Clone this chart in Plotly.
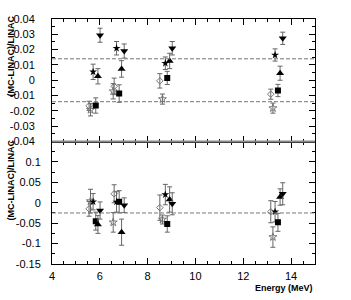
import plotly.graph_objects as go

# ---- data ----
x_open_diamond = [5.55, 6.60, 8.51, 13.15]
top_open_diamond = [-0.0167, -0.0040, -0.0004, -0.0091]
top_err_open_diamond = [0.003, 0.0054, 0.0047, 0.0033]
bot_open_diamond = [-0.015, 0.022, -0.012, -0.022]
bot_err_open_diamond = [0.018, 0.022, 0.031, 0.027]

x_open_star = [5.61, 6.56, 8.62, 13.24]
top_open_star = [-0.0193, -0.0072, -0.0123, -0.0182]
top_err_open_star = [0.004, 0.005, 0.0033, 0.0033]
bot_open_star = [0.004, -0.048, -0.041, -0.084]
bot_err_open_star = [0.029, 0.024, 0.011, 0.025]

x_star = [5.72, 6.70, 8.74, 13.33]
top_star = [0.0055, 0.0209, 0.0111, 0.0165]
top_err_star = [0.005, 0.0044, 0.0041, 0.004]
bot_star = [0.0025, 0.002, 0.020, -0.022]
bot_err_star = [0.02, 0.025, 0.025, 0.025]

x_square = [5.83, 6.81, 8.82, 13.45]
top_square = [-0.0165, -0.0087, 0.0015, -0.0067]
top_err_square = [0.005, 0.0057, 0.0043, 0.004]
bot_square = [-0.045, 0.0025, -0.052, -0.048]
bot_err_square = [0.022, 0.027, 0.02, 0.022]

x_tri_up = [5.92, 6.91, 8.92, 13.54]
top_tri_up = [0.0026, 0.0074, 0.0126, 0.0046]
top_err_tri_up = [0.005, 0.0054, 0.005, 0.0046]
bot_tri_up = [-0.053, -0.072, 0.008, 0.014]
bot_err_tri_up = [0.022, 0.032, 0.031, 0.02]

x_tri_down = [6.01, 7.02, 9.03, 13.65]
top_tri_down = [0.0294, 0.0191, 0.0209, 0.0274]
top_err_tri_down = [0.0046, 0.0046, 0.0044, 0.004]
bot_tri_down = [-0.019, -0.006, -0.0025, 0.022]
bot_err_tri_down = [0.021, 0.018, 0.027, 0.027]

top_band = [0.014, -0.014]
bot_band = [-0.025]

top_tickvals = [-0.04, -0.03, -0.02, -0.01, 0, 0.01, 0.02, 0.03, 0.04]
top_ticktext = ["-0.04", "-0.03", "-0.02", "-0.01", "0", "0.01", "0.02", "0.03", "0.04"]
bot_tickvals = [-0.15, -0.1, -0.05, 0, 0.05, 0.1]
bot_ticktext = ["-0.15", "-0.1", "-0.05", "0", "0.05", "0.1"]

FONT = "Liberation Sans Narrow, Liberation Sans, Arial, sans-serif"
ERR_COLOR = "#666666"

series = [
    (x_open_diamond, top_open_diamond, top_err_open_diamond, bot_open_diamond, bot_err_open_diamond,
     dict(symbol="diamond-open", size=5, color="#777777", line=dict(width=1))),
    (x_open_star, top_open_star, top_err_open_star, bot_open_star, bot_err_open_star,
     dict(symbol="star-open", size=6, color="#777777", line=dict(width=1))),
    (x_star, top_star, top_err_star, bot_star, bot_err_star,
     dict(symbol="star", size=6, color="black")),
    (x_square, top_square, top_err_square, bot_square, bot_err_square,
     dict(symbol="square", size=6, color="black")),
    (x_tri_up, top_tri_up, top_err_tri_up, bot_tri_up, bot_err_tri_up,
     dict(symbol="triangle-up", size=7, color="black")),
    (x_tri_down, top_tri_down, top_err_tri_down, bot_tri_down, bot_err_tri_down,
     dict(symbol="triangle-down", size=7, color="black")),
]

fig = go.Figure()
for xs, ty, te, by, be, mk in series:
    fig.add_trace(go.Scatter(x=xs, y=ty, mode="markers", marker=mk, xaxis="x2", yaxis="y2",
                             error_y=dict(type="data", array=te, visible=True, color=ERR_COLOR,
                                          thickness=1, width=2.5),
                             showlegend=False))
    fig.add_trace(go.Scatter(x=xs, y=by, mode="markers", marker=mk, xaxis="x", yaxis="y",
                             error_y=dict(type="data", array=be, visible=True, color=ERR_COLOR,
                                          thickness=1, width=2.5),
                             showlegend=False))

shapes = []
for v in top_band:
    shapes.append(dict(type="line", xref="x2 domain", x0=0, x1=1, yref="y2", y0=v, y1=v,
                       line=dict(color="#777777", width=1, dash="4px,2px")))
for v in bot_band:
    shapes.append(dict(type="line", xref="x domain", x0=0, x1=1, yref="y", y0=v, y1=v,
                       line=dict(color="#777777", width=1, dash="4px,2px")))
shapes.append(dict(type="line", xref="paper", yref="paper", x0=0, x1=1, y0=0.5, y1=0.5,
                   line=dict(color="#888888", width=2), layer="above"))

axis_common = dict(showline=True, linecolor="black", linewidth=1, mirror="ticks",
                   ticks="inside", ticklen=6, tickcolor="black", showgrid=False, zeroline=False,
                   automargin=False,
                   tickfont=dict(family=FONT, size=11, color="black"))

fig.update_layout(
    width=351, height=300,
    margin=dict(l=52, r=36, t=19, b=36),
    paper_bgcolor="white", plot_bgcolor="white",
    shapes=shapes,
    xaxis=dict(domain=[0, 1], anchor="y", range=[4, 15], tickmode="linear", tick0=0, dtick=2,
               minor=dict(tickmode="linear", tick0=0, dtick=0.5, ticks="inside", ticklen=3,
                          tickcolor="black"),
               ticklabelstandoff=2, **axis_common),
    xaxis2=dict(domain=[0, 1], anchor="y2", range=[4, 15], tickmode="linear", tick0=0, dtick=2,
                showticklabels=False, matches="x",
                minor=dict(tickmode="linear", tick0=0, dtick=0.5, ticks="inside", ticklen=3,
                           tickcolor="black"),
                **axis_common),
    yaxis=dict(domain=[0, 0.5], anchor="x", range=[-0.15, 0.15], tickmode="array",
               tickvals=bot_tickvals, ticktext=bot_ticktext,
               minor=dict(tickmode="linear", tick0=0, dtick=0.025, ticks="inside", ticklen=3,
                          tickcolor="black"),
               ticklabelstandoff=8, **axis_common),
    yaxis2=dict(domain=[0.5, 1], anchor="x2", range=[-0.04, 0.04], tickmode="array",
                tickvals=top_tickvals, ticktext=top_ticktext,
                minor=dict(tickmode="linear", tick0=0, dtick=0.005, ticks="inside", ticklen=3,
                           tickcolor="black"),
                ticklabelstandoff=14, **axis_common),
    annotations=[
        dict(text="<b>(MC-LINAC)/LINAC</b>", textangle=-90, xref="paper", yref="paper",
             x=-0.156, y=1.024, xanchor="center", yanchor="top", showarrow=False,
             font=dict(family="Liberation Sans, Arial, sans-serif", size=9, color="black")),
        dict(text="<b>(MC-LINAC)/LINAC</b>", textangle=-90, xref="paper", yref="paper",
             x=-0.156, y=0.518, xanchor="center", yanchor="top", showarrow=False,
             font=dict(family="Liberation Sans, Arial, sans-serif", size=9, color="black")),
        dict(text="<b>Energy (MeV)</b>", xref="paper", yref="paper", x=1.0, y=-0.096,
             xanchor="right", yanchor="middle", showarrow=False,
             font=dict(family="Liberation Sans, Arial, sans-serif", size=9, color="black")),
    ],
)

# remove the default page margin so the 351x300 figure fills the window exactly
fig.write_html("out.html", config={"displayModeBar": False},
               post_script="document.body.style.margin='0';")
